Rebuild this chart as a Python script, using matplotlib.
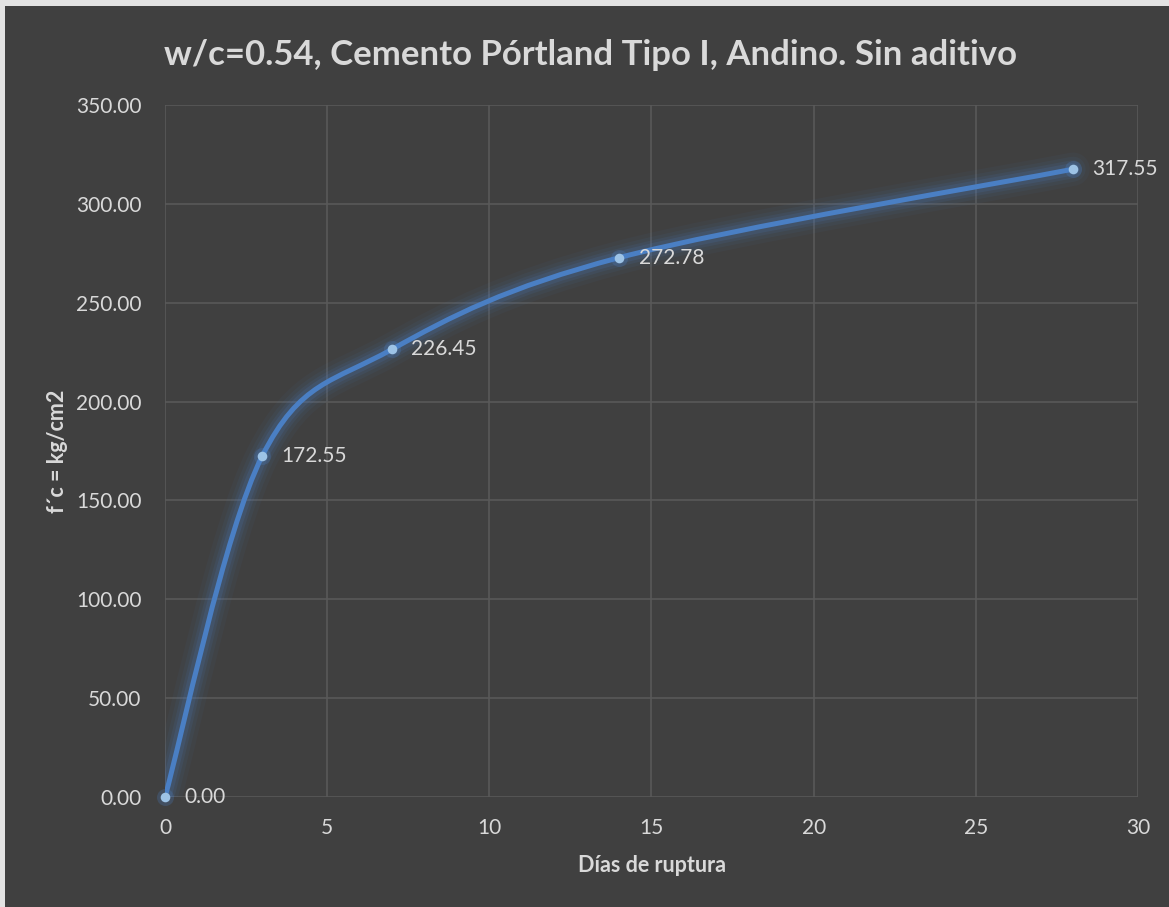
import matplotlib.pyplot as plt
from matplotlib.path import Path
from matplotlib.patches import PathPatch, Rectangle
import numpy as np

# ensayo de compresion, w/c = 0.54
dias = [0, 3, 7, 14, 28]
fc = [0.00, 172.55, 226.45, 272.78, 317.55]
etiquetas = ['0.00', '172.55', '226.45', '272.78', '317.55']

titulo = 'w/c=0.54, Cemento Pórtland Tipo I, Andino. Sin aditivo'
xticks = [0, 5, 10, 15, 20, 25, 30]
yticks = [0, 50, 100, 150, 200, 250, 300, 350]

bg = '#404040'
txt = '#d9d9d9'
grid = '#595959'
azul = '#4a7fc4'
punto = '#9dc3e6'

plt.rcParams['font.family'] = ['Lato', 'DejaVu Sans']


def smooth_path(x, y):
    # curva suavizada tipo Excel (bezier con tangentes catmull-rom)
    pts = np.column_stack([x, y]).astype(float)
    n = len(pts)
    verts = [pts[0]]
    codes = [Path.MOVETO]
    for i in range(n - 1):
        p0 = pts[i - 1] if i > 0 else pts[i]
        p1 = pts[i]
        p2 = pts[i + 1]
        p3 = pts[i + 2] if i + 2 < n else pts[i + 1]
        c1 = p1 + (p2 - p0) / 6.0
        c2 = p2 - (p3 - p1) / 6.0
        verts += [c1, c2, p2]
        codes += [Path.CURVE4] * 3
    return Path(verts, codes)


fig = plt.figure(figsize=(11.69, 9.07), dpi=100, facecolor='#e3e3e3')
fig.patches.append(Rectangle((5 / 1169, 0), 1, 1 - 6 / 907, transform=fig.transFigure,
                             facecolor=bg, edgecolor='none', zorder=-10))
ax = fig.add_axes([165 / 1169, 1 - 797 / 907, (1138 - 165) / 1169, (797 - 105) / 907])
ax.set_facecolor(bg)

path = smooth_path(dias, fc)
# brillo alrededor de la linea
for lw, a in [(24, 0.05), (18, 0.07), (13, 0.10), (9, 0.15)]:
    ax.add_patch(PathPatch(path, facecolor='none', edgecolor=azul, linewidth=lw,
                           alpha=a, capstyle='round', joinstyle='round', zorder=2))
ax.add_patch(PathPatch(path, facecolor='none', edgecolor=azul, linewidth=3.6,
                       capstyle='round', zorder=3))
ax.scatter(dias, fc, s=150, color=azul, alpha=0.25, linewidths=0, zorder=3, clip_on=False)
ax.scatter(dias, fc, s=48, color=punto, linewidths=0, zorder=4, clip_on=False)

for x, y, t in zip(dias, fc, etiquetas):
    ax.annotate(t, (x, y), xytext=(14, 0), textcoords='offset points',
                ha='left', va='center', color=txt, fontsize=15, zorder=5)

ax.set_xlim(0, 30)
ax.set_ylim(0, 350)
ax.set_xticks(xticks)
ax.set_yticks(yticks)
ax.set_yticklabels(['%.2f' % v for v in yticks])
ax.grid(True, color=grid, linewidth=1.2)
ax.set_axisbelow(True)
for s in ax.spines.values():
    s.set_visible(False)
ax.tick_params(axis='y', length=0, colors=txt, labelsize=15, pad=17)
ax.tick_params(axis='x', length=0, colors=txt, labelsize=15, pad=15)

ax.set_xlabel('Días de ruptura', color=txt, fontsize=15.5, fontweight='bold', labelpad=12)
ax.set_ylabel('f´c = kg/cm2', color=txt, fontsize=15.5, fontweight='bold', labelpad=6)
fig.text(591 / 1169, 1 - 55 / 907, titulo, ha='center', va='center', color=txt,
         fontsize=25, fontweight='bold')

fig.savefig('out.png', dpi=100, facecolor=fig.get_facecolor())
